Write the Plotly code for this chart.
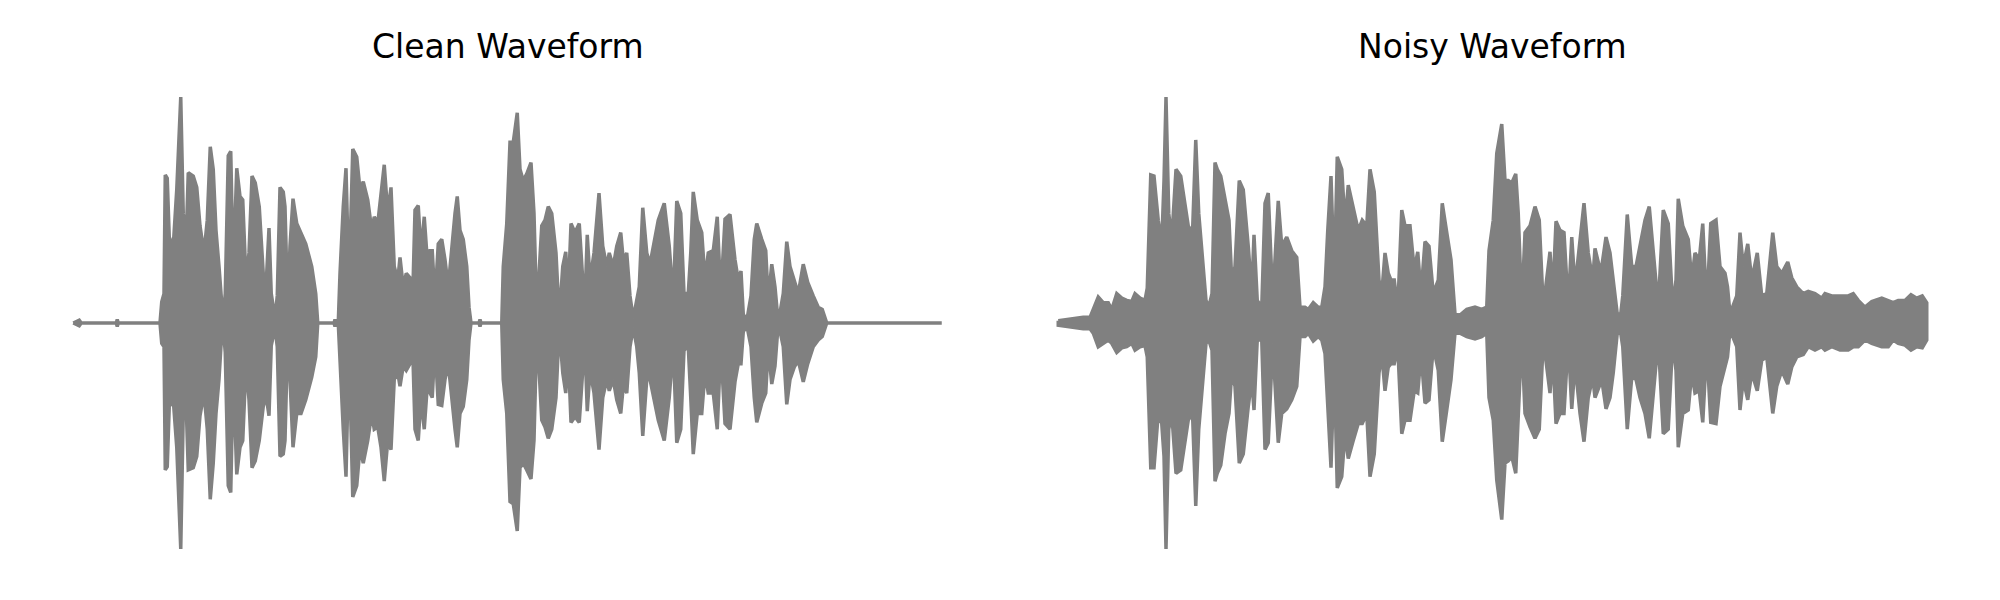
import plotly.graph_objects as go

# ---- Clean waveform envelope: time (ms), upper peak, lower peak (normalized amplitude)
clean_t = [13, 37, 45, 185, 189, 193, 360, 367, 376, 381, 389, 397, 413, 427, 443, 453, 464, 473, 493, 507,
           520, 536, 549, 561, 573, 584, 596, 604, 612, 621, 633, 643, 653, 667, 680, 691, 704, 716, 728, 741,
           757, 773, 784, 796, 805, 820, 829, 840, 853, 860, 871, 880, 892, 907, 924, 943, 967, 983, 991, 1056,
           1060, 1064, 1073, 1080, 1093, 1104, 1116, 1131, 1147, 1160, 1173, 1191, 1207, 1217, 1231, 1244, 1257, 1271, 1284, 1297,
           1311, 1320, 1333, 1345, 1360, 1369, 1380, 1393, 1404, 1417, 1431, 1440, 1449, 1460, 1473, 1487, 1500, 1513, 1527, 1540,
           1549, 1560, 1573, 1587, 1596, 1604, 1636, 1640, 1644, 1727, 1733, 1747, 1760, 1773, 1789, 1800, 1813, 1827, 1844, 1856,
           1867, 1875, 1887, 1900, 1913, 1927, 1944, 1957, 1971, 1983, 1993, 2004, 2020, 2037, 2051, 2060, 2069, 2080, 2096, 2116,
           2131, 2147, 2157, 2173, 2187, 2203, 2213, 2227, 2240, 2253, 2267, 2277, 2291, 2307, 2320, 2336, 2353, 2377, 2397, 2413,
           2427, 2443, 2456, 2473, 2483, 2493, 2509, 2527, 2540, 2553, 2573, 2589, 2603, 2620, 2640, 2660, 2673, 2684, 2693, 2707,
           2724, 2737, 2747, 2767, 2783, 2793, 2807, 2820, 2833, 2853, 2867, 2880, 2897, 2913, 2933, 2951, 2973, 2993, 3009, 3027,
           3487]
clean_hi = [0, 0.012, 0, 0, 0.015, 0, 0, 0.094, 0.13, 0.655, 0.64, 0.38, 0.34, 0.59, 1.0, 0.485, 0.34, 0.665, 0.65, 0.60,
            0.43, 0.31, 0.455, 0.78, 0.68, 0.41, 0.25, 0.10, 0.013, 0.13, 0.74, 0.76, 0.22, 0.685, 0.56, 0.545, 0.19, 0.31, 0.65, 0.62,
            0.515, 0.22, 0.16, 0.42, 0.13, 0.02, 0.12, 0.60, 0.58, 0.515, 0.06, 0.34, 0.55, 0.44, 0.40, 0.35, 0.25, 0.13, 0, 0,
            0.015, 0, 0, 0.22, 0.515, 0.685, 0.16, 0.77, 0.735, 0.59, 0.625, 0.545, 0.41, 0.47, 0.44, 0.59, 0.70, 0.485, 0.60, 0.25,
            0.19, 0.29, 0.16, 0.22, 0.20, 0.04, 0.50, 0.52, 0.31, 0.47, 0.25, 0.32, 0.32, 0.10, 0.35, 0.37, 0.28, 0.16, 0.34, 0.485,
            0.56, 0.41, 0.37, 0.25, 0.07, 0, 0, 0.015, 0, 0, 0.25, 0.44, 0.80, 0.80, 0.93, 0.68, 0.63, 0.66, 0.71, 0.485,
            0.04, 0.20, 0.43, 0.455, 0.515, 0.485, 0.31, 0.02, 0.25, 0.315, 0.12, 0.44, 0.40, 0.44, 0.19, 0.10, 0.39, 0.19, 0.31, 0.575,
            0.34, 0.25, 0.31, 0.25, 0.34, 0.40, 0.28, 0.31, 0.12, 0.02, 0.11, 0.16, 0.51, 0.31, 0.26, 0.35, 0.455, 0.53, 0.34, 0.10,
            0.54, 0.485, 0.13, 0.13, 0.31, 0.58, 0.455, 0.40, 0.19, 0.31, 0.32, 0.47, 0.12, 0.46, 0.48, 0.28, 0.19, 0.23, 0.04, 0.01,
            0.12, 0.37, 0.44, 0.37, 0.32, 0.10, 0.26, 0.16, 0, 0.13, 0.36, 0.25, 0.19, 0.13, 0.26, 0.18, 0.12, 0.07, 0.06, 0,
            0]
clean_lo = [0, -0.012, 0, 0, -0.015, 0, 0, -0.09, -0.105, -0.65, -0.636, -0.37, -0.34, -0.55, -1.0, -0.40, -0.34, -0.65, -0.64, -0.59,
            -0.41, -0.31, -0.47, -0.78, -0.62, -0.40, -0.25, -0.10, -0.013, -0.13, -0.72, -0.75, -0.22, -0.67, -0.55, -0.52, -0.18, -0.34, -0.64, -0.61,
            -0.52, -0.37, -0.32, -0.41, -0.10, -0.02, -0.105, -0.59, -0.58, -0.52, -0.05, -0.25, -0.55, -0.40, -0.40, -0.34, -0.24, -0.15, 0, 0,
            -0.015, 0, 0, -0.14, -0.47, -0.68, -0.10, -0.77, -0.72, -0.55, -0.62, -0.52, -0.40, -0.47, -0.46, -0.55, -0.70, -0.52, -0.56, -0.25,
            -0.22, -0.28, -0.19, -0.21, -0.18, -0.045, -0.47, -0.52, -0.33, -0.47, -0.25, -0.31, -0.33, -0.09, -0.36, -0.365, -0.25, -0.18, -0.33, -0.47,
            -0.55, -0.40, -0.37, -0.25, -0.075, 0, 0, -0.015, 0, 0, -0.25, -0.40, -0.79, -0.80, -0.92, -0.64, -0.62, -0.65, -0.69, -0.52,
            -0.045, -0.18, -0.43, -0.46, -0.51, -0.47, -0.33, -0.02, -0.22, -0.31, -0.135, -0.44, -0.415, -0.44, -0.21, -0.105, -0.39, -0.21, -0.31, -0.56,
            -0.33, -0.25, -0.30, -0.25, -0.34, -0.40, -0.28, -0.31, -0.105, -0.02, -0.105, -0.22, -0.50, -0.25, -0.25, -0.34, -0.43, -0.52, -0.33, -0.105,
            -0.53, -0.47, -0.12, -0.105, -0.33, -0.58, -0.40, -0.40, -0.22, -0.31, -0.31, -0.47, -0.105, -0.445, -0.47, -0.26, -0.18, -0.18, -0.04, -0.01,
            -0.105, -0.33, -0.44, -0.355, -0.31, -0.105, -0.27, -0.19, 0, -0.105, -0.36, -0.25, -0.195, -0.165, -0.26, -0.18, -0.105, -0.075, -0.06, 0,
            0]

# ---- Noisy waveform envelope
noisy_t = [13, 47, 80, 113, 140, 153, 173, 193, 213, 227, 247, 267, 287, 307, 320, 340, 360, 369, 383, 396,
           413, 427, 436, 444, 455, 467, 484, 503, 520, 537, 551, 563, 575, 591, 604, 615, 628, 640, 649, 663,
           680, 696, 707, 720, 737, 753, 773, 787, 796, 809, 827, 840, 853, 871, 893, 907, 927, 947, 967, 980,
           1000, 1013, 1033, 1053, 1067, 1080, 1091, 1104, 1117, 1129, 1147, 1160, 1173, 1193, 1213, 1229, 1247, 1260, 1277, 1296,
           1307, 1320, 1333, 1344, 1357, 1371, 1387, 1400, 1420, 1437, 1451, 1464, 1480, 1496, 1513, 1533, 1549, 1567, 1584, 1600,
           1620, 1647, 1680, 1707, 1727, 1736, 1753, 1767, 1787, 1800, 1813, 1827, 1843, 1853, 1867, 1880, 1900, 1920, 1937, 1953,
           1967, 1980, 1991, 2004, 2020, 2036, 2053, 2067, 2080, 2100, 2116, 2133, 2151, 2160, 2177, 2187, 2204, 2220, 2233, 2249,
           2263, 2271, 2289, 2307, 2324, 2340, 2360, 2377, 2396, 2413, 2433, 2453, 2471, 2484, 2493, 2511, 2533, 2547, 2560, 2577,
           2591, 2607, 2623, 2644, 2660, 2680, 2690, 2700, 2727, 2740, 2753, 2771, 2787, 2809, 2827, 2847, 2871, 2887, 2907, 2931,
           2947, 2967, 2993, 3013, 3040, 3067, 3080, 3107, 3140, 3173, 3193, 3213, 3240, 3267, 3307, 3333, 3353, 3373, 3400, 3424,
           3447, 3469, 3487]
noisy_hi = [0.01, 0.015, 0.02, 0.025, 0.025, 0.06, 0.115, 0.09, 0.09, 0.06, 0.13, 0.11, 0.10, 0.095, 0.13, 0.11, 0.10, 0.155, 0.655, 0.65,
            0.455, 0.35, 0.63, 1.0, 0.485, 0.37, 0.68, 0.65, 0.515, 0.40, 0.43, 0.81, 0.485, 0.25, 0.10, 0.07, 0.13, 0.71, 0.68, 0.65,
            0.545, 0.455, 0.19, 0.25, 0.63, 0.59, 0.34, 0.13, 0.39, 0.10, 0.07, 0.53, 0.575, 0.10, 0.54, 0.34, 0.38, 0.32, 0.29, 0.07,
            0.07, 0.06, 0.09, 0.07, 0.07, 0.16, 0.41, 0.65, 0.19, 0.735, 0.68, 0.44, 0.61, 0.515, 0.41, 0.455, 0.43, 0.68, 0.58, 0.19,
            0.13, 0.31, 0.22, 0.19, 0.19, 0.06, 0.50, 0.43, 0.43, 0.235, 0.315, 0.13, 0.36, 0.34, 0.13, 0.19, 0.53, 0.40, 0.28, 0.04,
            0.035, 0.06, 0.07, 0.06, 0.07, 0.32, 0.455, 0.75, 0.88, 0.63, 0.63, 0.62, 0.66, 0.485, 0.07, 0.40, 0.43, 0.515, 0.455, 0.07,
            0.19, 0.315, 0.12, 0.45, 0.41, 0.40, 0.07, 0.38, 0.16, 0.38, 0.53, 0.31, 0.19, 0.33, 0.25, 0.25, 0.38, 0.31, 0.19, 0.04,
            0.04, 0.12, 0.48, 0.25, 0.25, 0.34, 0.455, 0.515, 0.29, 0.07, 0.50, 0.44, 0.07, 0.19, 0.55, 0.43, 0.37, 0.19, 0.31, 0.28,
            0.44, 0.07, 0.44, 0.455, 0.25, 0.22, 0.16, 0.04, 0.12, 0.40, 0.25, 0.35, 0.19, 0.31, 0.12, 0.13, 0.40, 0.25, 0.22, 0.27,
            0.20, 0.16, 0.13, 0.14, 0.13, 0.11, 0.13, 0.12, 0.12, 0.12, 0.13, 0.10, 0.07, 0.095, 0.11, 0.10, 0.09, 0.10, 0.10, 0.125,
            0.11, 0.12, 0.09]
noisy_lo = [-0.01, -0.015, -0.02, -0.025, -0.025, -0.045, -0.105, -0.09, -0.075, -0.09, -0.13, -0.11, -0.105, -0.09, -0.12, -0.105, -0.10, -0.15, -0.64, -0.64,
            -0.40, -0.445, -0.59, -1.0, -0.47, -0.40, -0.665, -0.65, -0.52, -0.40, -0.43, -0.81, -0.47, -0.25, -0.09, -0.075, -0.12, -0.70, -0.665, -0.63,
            -0.49, -0.40, -0.22, -0.28, -0.62, -0.58, -0.37, -0.25, -0.385, -0.075, -0.075, -0.56, -0.53, -0.09, -0.53, -0.40, -0.38, -0.34, -0.28, -0.06,
            -0.06, -0.045, -0.08, -0.06, -0.075, -0.135, -0.40, -0.64, -0.18, -0.73, -0.68, -0.49, -0.60, -0.52, -0.445, -0.445, -0.40, -0.68, -0.58, -0.22,
            -0.135, -0.30, -0.195, -0.18, -0.18, -0.105, -0.49, -0.43, -0.43, -0.30, -0.31, -0.135, -0.355, -0.34, -0.105, -0.21, -0.525, -0.385, -0.25, -0.045,
            -0.045, -0.06, -0.07, -0.06, -0.045, -0.33, -0.43, -0.695, -0.87, -0.62, -0.61, -0.59, -0.665, -0.47, -0.06, -0.40, -0.46, -0.51, -0.47, -0.075,
            -0.195, -0.31, -0.135, -0.445, -0.40, -0.40, -0.075, -0.38, -0.18, -0.40, -0.525, -0.33, -0.24, -0.33, -0.28, -0.25, -0.38, -0.33, -0.22, -0.045,
            -0.045, -0.105, -0.47, -0.24, -0.25, -0.33, -0.40, -0.51, -0.30, -0.075, -0.49, -0.47, -0.075, -0.21, -0.55, -0.40, -0.385, -0.22, -0.31, -0.30,
            -0.44, -0.105, -0.44, -0.445, -0.28, -0.195, -0.15, -0.03, -0.105, -0.385, -0.25, -0.34, -0.22, -0.30, -0.165, -0.15, -0.40, -0.28, -0.21, -0.27,
            -0.195, -0.15, -0.14, -0.105, -0.12, -0.105, -0.12, -0.105, -0.12, -0.12, -0.105, -0.105, -0.075, -0.09, -0.105, -0.105, -0.075, -0.09, -0.098, -0.12,
            -0.105, -0.11, -0.075]

titles = ["Clean Waveform", "Noisy Waveform"]
WAVE_COLOR = "#808080"


def envelope_trace(t, hi, lo, xa, ya):
    xs = list(t) + list(reversed(t)) + [t[0]]
    ys = list(hi) + list(reversed(lo)) + [hi[0]]
    return go.Scatter(x=xs, y=ys, mode="lines", fill="toself", fillcolor=WAVE_COLOR,
                      line=dict(color=WAVE_COLOR, width=3.5, shape="linear"),
                      xaxis=xa, yaxis=ya, hoverinfo="skip", showlegend=False)


fig = go.Figure()
fig.add_trace(envelope_trace(clean_t, clean_hi, clean_lo, "x", "y"))
fig.add_trace(envelope_trace(noisy_t, noisy_hi, noisy_lo, "x2", "y2"))

W, H = 1984, 584  # page body has an 8px margin
hidden = dict(visible=False, showgrid=False, zeroline=False, fixedrange=True)
yr = [-1.1903, 1.3938]
fig.update_layout(
    width=W, height=H,
    margin=dict(l=0, r=0, t=0, b=0),
    paper_bgcolor="white", plot_bgcolor="white",
    xaxis=dict(domain=[0.0, 0.5], range=[-248, 3720], **hidden),
    yaxis=dict(domain=[0.0, 1.0], range=yr, **hidden),
    xaxis2=dict(domain=[0.5, 1.0], range=[-220, 3748], anchor="y2", **hidden),
    yaxis2=dict(domain=[0.0, 1.0], range=yr, anchor="x2", **hidden),
    font=dict(family="DejaVu Sans", color="black"),
    annotations=[
        dict(text=titles[0], x=499.5 / W, y=1 - 38 / H, xref="paper", yref="paper",
             xanchor="center", yanchor="middle", showarrow=False, font=dict(size=33, family="DejaVu Sans")),
        dict(text=titles[1], x=1484.5 / W, y=1 - 38 / H, xref="paper", yref="paper",
             xanchor="center", yanchor="middle", showarrow=False, font=dict(size=33, family="DejaVu Sans")),
    ],
)

fig.write_html("out.html")
